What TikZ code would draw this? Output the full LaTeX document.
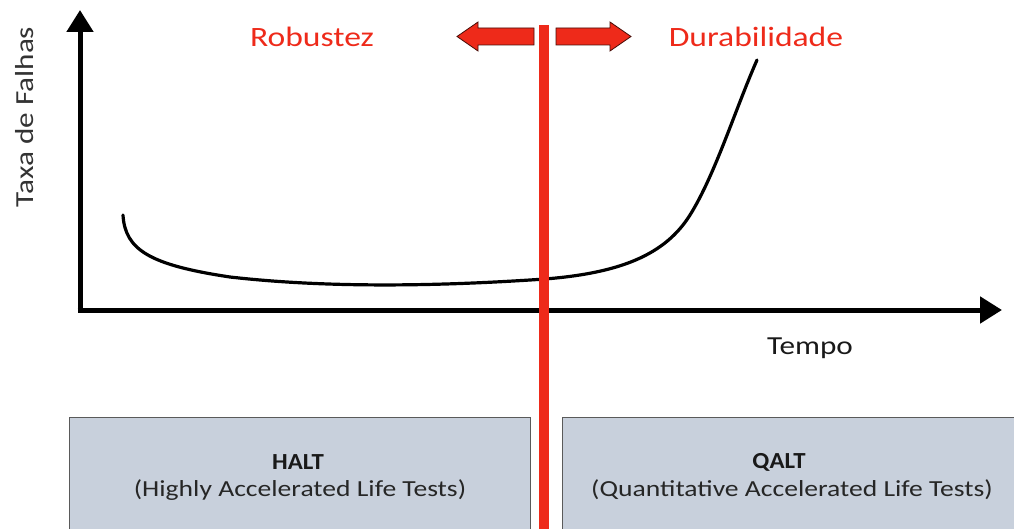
\documentclass[tikz,border=0pt]{standalone}
\usepackage{fontspec}
\setmainfont{Carlito}
\usetikzlibrary{arrows.meta}
\definecolor{redline}{HTML}{EE2A1A}
\definecolor{boxfill}{HTML}{C8D0DC}
\definecolor{boxedge}{HTML}{5A5A5A}
% text set a little wider than the font's natural width
\newcommand{\widetext}[2][1.2]{\scalebox{#1}[1]{#2}}
\begin{document}
\begin{tikzpicture}[x=1pt,y=-1pt,
  axis/.style={line width=5pt,-{Triangle[length=22pt,width=26pt]}},
  redlabel/.style={text=redline,font=\fontsize{28}{32}\selectfont,anchor=center},
  testbox/.style={fill=boxfill,draw=boxedge,line width=1pt},
  boxtitle/.style={font=\fontsize{23}{27}\selectfont\bfseries,anchor=center,text=black!90},
  boxsub/.style={font=\fontsize{23}{27}\selectfont,anchor=center,text=black!85},
  bigarrow/.style={fill=redline,draw=black!70!redline,line width=0.8pt}]
\useasboundingbox (0,0) rectangle (1014,529);

% lower boxes (run past the page edge)
\fill[testbox] (69,417) rectangle (530,540);
\fill[testbox] (562,417) rectangle (1030,540);
\node[boxtitle] (halt) at (298,462) {\widetext[1.08]{HALT}};
\node[boxsub] (haltsub) at (300,490) {\widetext{(Highly Accelerated Life Tests)}};
\node[boxtitle] (qalt) at (779,462) {\widetext[1.08]{QALT}};
\node[boxsub] (qaltsub) at (792,490) {\widetext{(Quantitative Accelerated Life Tests)}};

% axes
\coordinate (origin) at (80,310);
\coordinate (ytip) at (80,10);
\coordinate (xtip) at (1002,310);
\draw[axis] ([yshift=2.5]origin) -- (ytip);
\draw[axis] ([xshift=-2.5]origin) -- (xtip);
\node[rotate=90,font=\fontsize{26}{30}\selectfont,text=black!80] (ylab) at (25,117) {\widetext{Taxa de Falhas}};
\node[font=\fontsize{26}{30}\selectfont,text=black!90] (xlab) at (810,348) {\widetext{Tempo}};

% failure-rate curve
\draw[line width=3.2pt,line cap=round]
  (123,215) .. controls (125,250) and (150,265) .. (230,277)
  .. controls (300,285) and (400,289) .. (545,279)
  .. controls (620,273) and (665,255) .. (690,215)
  .. controls (715,175) and (735,110) .. (757,60);

% boundary line and direction arrows
\fill[redline] (539,25) rectangle (549,529);
\draw[bigarrow] (534,28) -- (478,28) -- (478,22) -- (457,36.5) -- (478,51) -- (478,45) -- (534,45) -- cycle;
\draw[bigarrow] (556,28) -- (610,28) -- (610,22) -- (631,36.5) -- (610,51) -- (610,45) -- (556,45) -- cycle;
\node[redlabel] (rob) at (312,37) {\widetext{Robustez}};
\node[redlabel] (dur) at (756,37) {\widetext{Durabilidade}};
\end{tikzpicture}
\end{document}
